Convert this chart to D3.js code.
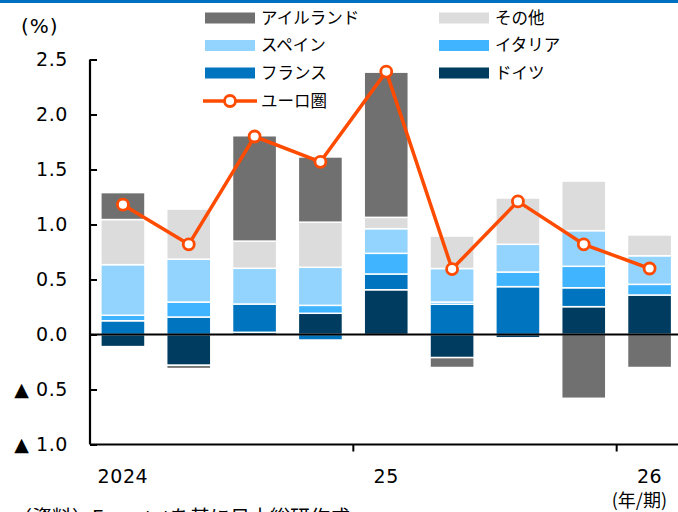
<!DOCTYPE html>
<html>
<head>
<meta charset="utf-8">
<script src="https://cdn.jsdelivr.net/npm/d3@7"></script>
<style>
  html, body { margin: 0; padding: 0; background: #fff; }
  svg { display: block; }
  .num { font-family: "DejaVu Sans", "Noto Sans CJK JP", sans-serif; }
  .jp { font-family: "Noto Sans CJK JP", "DejaVu Sans", sans-serif; }
</style>
</head>
<body>
<svg id="chart" width="678" height="512"></svg>
<script>
// Quarterly contributions to euro-area real GDP growth (q/q, %)
const quarters = ["2024Q1", "2024Q2", "2024Q3", "2024Q4", "2025Q1", "2025Q2", "2025Q3", "2025Q4", "2026Q1"];
const quarterLabels = ["2024", "", "", "", "25", "", "", "", "26"];

const germany = [-0.11, -0.28, 0.02, 0.193, 0.407, -0.21, -0.03, 0.253, 0.359];
const france  = [0.125, 0.159, 0.257, -0.05, 0.143, 0.275, 0.435, 0.172, 0.0];
const italy   = [0.05, 0.136, 0.0, 0.072, 0.188, 0.02, 0.133, 0.195, 0.097];
const spain   = [0.46, 0.39, 0.325, 0.346, 0.224, 0.305, 0.252, 0.324, 0.26];
const others  = [0.41, 0.455, 0.247, 0.41, 0.103, 0.295, 0.421, 0.451, 0.189];
const ireland = [0.245, -0.03, 0.958, 0.593, 1.32, -0.09, 0.0, -0.58, -0.30];
const euroArea = [1.18, 0.82, 1.80, 1.57, 2.39, 0.595, 1.21, 0.82, 0.60];

const yTicks = [2.5, 2.0, 1.5, 1.0, 0.5, 0.0, -0.5, -1.0];

// Series in stacking order (closest to zero first)
const seriesDefs = [
  { key: "ドイツ",       values: germany, color: "#003B60" },
  { key: "フランス",     values: france,  color: "#0074BE" },
  { key: "イタリア",     values: italy,   color: "#40B4FF" },
  { key: "スペイン",     values: spain,   color: "#93D4FE" },
  { key: "その他",       values: others,  color: "#DCDCDC" },
  { key: "アイルランド", values: ireland, color: "#707070" }
];
const lineColor = "#FF4B00";

const rows = quarters.map((q, i) => {
  const r = { q };
  seriesDefs.forEach(s => { r[s.key] = s.values[i]; });
  return r;
});

const svg = d3.select("#chart");

// top rule
svg.append("rect").attr("x", 0).attr("y", 0).attr("width", 678).attr("height", 3).attr("fill", "#0070C0");

const x = d3.scaleBand().domain(quarters).range([90, 682.5]).paddingInner(0.33).paddingOuter(0.165);
const y = d3.scaleLinear().domain([-1.0, 2.5]).range([444.5, 59.5]);

const stack = d3.stack().keys(seriesDefs.map(s => s.key)).offset(d3.stackOffsetDiverging);
const stacked = stack(rows);
const colorOf = Object.fromEntries(seriesDefs.map(s => [s.key, s.color]));

// stacked bars
const layers = svg.append("g").selectAll("g").data(stacked).join("g").attr("fill", d => colorOf[d.key]);
layers.selectAll("rect").data(d => d).join("rect")
  .attr("x", d => x(d.data.q))
  .attr("width", x.bandwidth())
  .attr("y", d => y(Math.max(d[0], d[1])))
  .attr("height", d => Math.abs(y(d[0]) - y(d[1])))
  .attr("stroke", "#fff")
  .attr("stroke-width", 1.5);

// y axis
const yAxis = d3.axisRight(y).tickValues(yTicks).tickSize(7).tickFormat("");
const yg = svg.append("g").attr("transform", "translate(90,0)").call(yAxis);
yg.select(".domain").attr("stroke", "#000").attr("stroke-width", 2.2).attr("d", `M0,${y(2.5)}V${y(-1.0)}`);
yg.selectAll(".tick line").attr("stroke", "#000").attr("stroke-width", 2);

svg.append("g").selectAll("text").data(yTicks).join("text")
  .attr("class", "num")
  .attr("x", 68)
  .attr("y", d => y(d))
  .attr("dy", "0.36em")
  .attr("text-anchor", "end")
  .attr("font-size", 19)
  .attr("letter-spacing", 0.6)
  .attr("fill", "#000")
  .text(d => (d < 0 ? "▲ " : "") + Math.abs(d).toFixed(1));

svg.append("text").attr("class", "num")
  .attr("x", 21).attr("y", 33).attr("font-size", 20).attr("letter-spacing", 1).attr("fill", "#000")
  .text("(%)");

// x axis along the bottom of the plot
const step = x.step();
const halfGap = step * x.paddingInner() / 2;
const yearStarts = quarters.filter((q, i) => quarterLabels[i] !== "");
svg.append("line")
  .attr("x1", 90).attr("x2", 678)
  .attr("y1", y(-1.0)).attr("y2", y(-1.0))
  .attr("stroke", "#000").attr("stroke-width", 2.2);
svg.append("g").selectAll("line").data(yearStarts.slice(1)).join("line")
  .attr("x1", d => x(d) - halfGap).attr("x2", d => x(d) - halfGap)
  .attr("y1", y(-1.0)).attr("y2", y(-1.0) + 7)
  .attr("stroke", "#000").attr("stroke-width", 2);

svg.append("g").selectAll("text").data(yearStarts).join("text")
  .attr("class", "num")
  .attr("x", d => x(d) + x.bandwidth() / 2)
  .attr("y", 483)
  .attr("text-anchor", "middle")
  .attr("font-size", 19)
  .attr("letter-spacing", 0.6)
  .attr("fill", "#000")
  .text(d => quarterLabels[quarters.indexOf(d)]);

svg.append("text").attr("class", "jp")
  .attr("x", 667).attr("y", 507).attr("text-anchor", "end")
  .attr("font-size", 18).attr("fill", "#000")
  .text("(年/期)");

// zero line
svg.append("line")
  .attr("x1", 90).attr("x2", 678)
  .attr("y1", y(0)).attr("y2", y(0))
  .attr("stroke", "#000").attr("stroke-width", 2.2);

// euro-area total
const line = d3.line().x((d, i) => x(quarters[i]) + x.bandwidth() / 2).y(d => y(d));
svg.append("path").datum(euroArea)
  .attr("d", line)
  .attr("fill", "none")
  .attr("stroke", lineColor)
  .attr("stroke-width", 3.5)
  .attr("stroke-linejoin", "round");
svg.append("g").selectAll("circle").data(euroArea).join("circle")
  .attr("cx", (d, i) => x(quarters[i]) + x.bandwidth() / 2)
  .attr("cy", d => y(d))
  .attr("r", 5.5)
  .attr("fill", "#fff")
  .attr("stroke", lineColor)
  .attr("stroke-width", 2.8);

// legend
const legendItems = [
  { key: "アイルランド", col: 0, row: 0 },
  { key: "その他",       col: 1, row: 0 },
  { key: "スペイン",     col: 0, row: 1 },
  { key: "イタリア",     col: 1, row: 1 },
  { key: "フランス",     col: 0, row: 2 },
  { key: "ドイツ",       col: 1, row: 2 }
];
const colX = [205, 439];
const rowY = [18, 45.5, 73, 101];
const lg = svg.append("g");
legendItems.forEach(it => {
  lg.append("rect")
    .attr("x", colX[it.col]).attr("y", rowY[it.row] - 5.5)
    .attr("width", 50).attr("height", 11)
    .attr("fill", colorOf[it.key]);
  lg.append("text").attr("class", "jp")
    .attr("x", colX[it.col] + 56).attr("y", rowY[it.row])
    .attr("dy", "0.36em")
    .attr("font-size", 16.5).attr("fill", "#000")
    .text(it.key);
});
lg.append("line")
  .attr("x1", 203).attr("x2", 257)
  .attr("y1", rowY[3]).attr("y2", rowY[3])
  .attr("stroke", lineColor).attr("stroke-width", 3.5);
lg.append("circle")
  .attr("cx", 230).attr("cy", rowY[3]).attr("r", 5.5)
  .attr("fill", "#fff").attr("stroke", lineColor).attr("stroke-width", 2.8);
lg.append("text").attr("class", "jp")
  .attr("x", 261).attr("y", rowY[3]).attr("dy", "0.36em")
  .attr("font-size", 16.5).attr("fill", "#000")
  .text("ユーロ圏");

// source note, running off the bottom edge
svg.append("text").attr("class", "jp")
  .attr("x", 12).attr("y", 525)
  .attr("font-size", 20).attr("fill", "#000")
  .text("（資料）Eurostatを基に日本総研作成");
</script>
</body>
</html>
